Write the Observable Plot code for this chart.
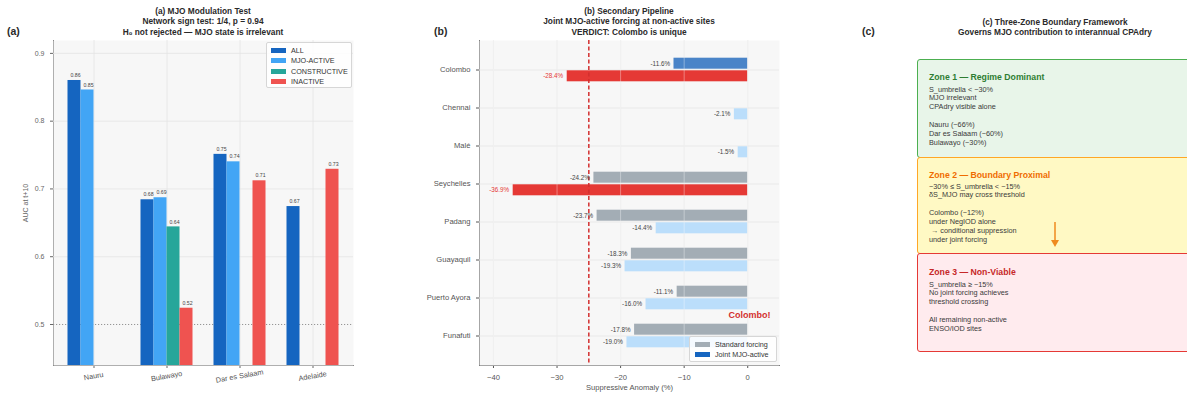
<!DOCTYPE html>
<html><head><meta charset="utf-8">
<script src="https://cdn.jsdelivr.net/npm/d3@7"></script>
<script src="https://cdn.jsdelivr.net/npm/@observablehq/plot@0.6"></script>
<style>
body{margin:0;width:1187px;height:397px;overflow:hidden;background:#fff;font-family:"Liberation Sans",Arial,sans-serif;position:relative;color:#222}
.abs{position:absolute}
.title{position:absolute;text-align:center;font-weight:bold;font-size:8.3px;line-height:10.3px;color:#2a2a2a;white-space:nowrap}
.tag{position:absolute;font-weight:bold;font-size:10.5px;color:#2a2a2a}
.legend{position:absolute;background:rgba(255,255,255,0.85);border:1px solid #d6d6d6;border-radius:2px;font-size:7.2px;color:#333;box-sizing:border-box;white-space:nowrap}
.legend .it{display:flex;align-items:center;height:10.3px}
.legend .sw{width:15px;height:5px;margin-right:5px;flex:none}
.zone{position:absolute;left:917px;width:300px;border-radius:3px;box-sizing:border-box;border-width:1.5px;border-style:solid}
.ztitle{position:absolute;left:929px;font-weight:bold;font-size:8.7px;line-height:10px;white-space:nowrap}
.zbody{position:absolute;left:929px;font-size:7.3px;line-height:8.9px;color:#3a3a3a;white-space:pre}
</style></head><body>
<div id="root"></div>
<script>
// ---------- Panel (a) data ----------
const sitesA = ["Nauru", "Bulawayo", "Dar es Salaam", "Adelaide"];
const seriesA = ["ALL", "MJO-ACTIVE", "CONSTRUCTIVE", "INACTIVE"];
const colorsA = ["#1565c0", "#42a5f5", "#26a69a", "#ef5350"];
const aucAll = [0.860, 0.684, 0.751, 0.674];
const aucActive = [0.846, 0.687, 0.740, null];
const aucConstructive = [null, 0.644, null, null];
const aucInactive = [null, 0.524, 0.712, 0.729];
const yTicksA = [0.5, 0.6, 0.7, 0.8, 0.9];

// ---------- Panel (b) data ----------
const sitesB = ["Colombo", "Chennai", "Malé", "Seychelles", "Padang", "Guayaquil", "Puerto Ayora", "Funafuti"];
const standardForcing = [-11.6, null, null, -24.2, -23.7, -18.3, -11.1, -17.8];
const jointForcing = [-28.4, -2.1, -1.5, -36.9, -14.4, -19.3, -16.0, -19.0];
const threshold = -25;
const highlightSite = "Colombo";
const xTicksB = [-40, -30, -20, -10, 0];

// ---------- Panel (c) text ----------
const zoneTitles = ["Zone 1 — Regime Dominant", "Zone 2 — Boundary Proximal", "Zone 3 — Non-Viable"];
const zoneBodies = [
  "S_umbrella < −30%\nMJO irrelevant\nCPAdry visible alone\n\nNauru (−66%)\nDar es Salaam (−60%)\nBulawayo (−30%)",
  "−30% ≤ S_umbrella < −15%\nδS_MJO may cross threshold\n\nColombo (−12%)\nunder NegIOD alone\n → conditional suppression\nunder joint forcing",
  "S_umbrella ≥ −15%\nNo joint forcing achieves\nthreshold crossing\n\nAll remaining non-active\nENSO/IOD sites"
];

const root = document.getElementById("root");
function add(html) { root.insertAdjacentHTML("beforeend", html); }
const FONT = "Liberation Sans, Arial, sans-serif";

// ===== Panel (a) =====
add(`<div class="tag" style="left:7px;top:25px">(a)</div>`);
add(`<div class="title" style="left:103px;width:200px;top:6px">(a) MJO Modulation Test<br>Network sign test: 1/4, p = 0.94<br>H₀ not rejected — MJO state is irrelevant</div>`);

const seriesValues = [aucAll, aucActive, aucConstructive, aucInactive];
const rowsA = [];
seriesA.forEach((s, i) => sitesA.forEach((site, j) => {
  const v = seriesValues[i][j];
  if (v != null) rowsA.push({site, series: s, value: v, idx: i});
}));
const barW = 13;
const yDomA = [0.4395, 0.919];

const marksA = [
  Plot.frame({fill: "#f7f7f7", stroke: null}),
  Plot.ruleY(yTicksA.filter(t => t !== 0.5), {stroke: "#e4e4e4", strokeWidth: 0.8}),
  Plot.ruleX(sitesA, {x: d => d, stroke: "#e4e4e4", strokeWidth: 0.8}),
  Plot.ruleY([0.5], {stroke: "#8a8a8a", strokeWidth: 0.9, strokeDasharray: "1.2,1.8"})
];
seriesA.forEach((s, i) => {
  const data = rowsA.filter(d => d.series === s);
  const off = (i - 1.5) * barW;
  marksA.push(Plot.barY(data, {x: "site", y: "value", fill: colorsA[i], dx: off, clip: true}));
  marksA.push(Plot.text(data, {x: "site", y: "value", text: d => d.value.toFixed(2), dx: off + 1, dy: -5, fontSize: 5.2, fill: "#444"}));
});
marksA.push(Plot.text(sitesA, {x: d => d, frameAnchor: "bottom", dy: 13, rotate: -10, fontSize: 7.3, fill: "#555"}));

const plotA = Plot.plot({
  width: 400, height: 359,
  marginLeft: 53, marginRight: 47, marginTop: 2, marginBottom: 32,
  style: {fontFamily: FONT, fontSize: "7px", color: "#666", background: "transparent", overflow: "visible"},
  x: {domain: sitesA, paddingInner: 1 - 0.177, paddingOuter: 0.455, label: null, tickFormat: () => "", tickSize: 3, line: true},
  y: {domain: yDomA, ticks: yTicksA, tickFormat: ".1f", tickSize: 3, line: true, label: "AUC at t+10", labelAnchor: "center", labelOffset: 30, labelArrow: "none"},
  marks: marksA
});
const divA = document.createElement("div");
divA.className = "abs"; divA.style.left = "0px"; divA.style.top = "38px";
divA.appendChild(plotA);
root.appendChild(divA);

add(`<div class="legend" style="left:266px;top:42px;width:86px;height:46px;padding:2.5px 0 0 4px">
${seriesA.map((s, i) => `<div class="it"><span class="sw" style="background:${colorsA[i]}"></span>${s}</div>`).join("")}
</div>`);

// ===== Panel (b) =====
add(`<div class="tag" style="left:434px;top:25px">(b)</div>`);
add(`<div class="title" style="left:529px;width:200px;top:6px">(b) Secondary Pipeline<br>Joint MJO-active forcing at non-active sites<br>VERDICT: Colombo is unique</div>`);

const stdRows = sitesB.map((site, j) => ({site, value: standardForcing[j]})).filter(d => d.value != null);
const jointRows = sitesB.map((site, j) => ({site, value: jointForcing[j]}));
const stdColor = d => d.site === highlightSite ? "#4a84c8" : "#a3adb5";
const jointColor = d => d.value <= threshold ? "#e53935" : "#bbdefb";
const jointText = d => d.value <= threshold ? "#e53935" : "#444";
const fmt = v => `${v.toFixed(1)}%`;
const OFF = 6.3;

const plotB = Plot.plot({
  width: 400, height: 359,
  marginLeft: 79, marginRight: 21, marginTop: 2, marginBottom: 32,
  style: {fontFamily: FONT, fontSize: "7.6px", color: "#555", background: "transparent", overflow: "visible"},
  x: {domain: [-42.2, 5.0], ticks: xTicksB, tickSize: 3, line: true, label: "Suppressive Anomaly (%)", labelAnchor: "center", labelOffset: 24, labelArrow: "none"},
  y: {domain: sitesB, paddingInner: 0.70, paddingOuter: 0.551, tickSize: 3, line: true, label: null},
  marks: [
    Plot.frame({fill: "#f7f7f7", stroke: null}),
    Plot.ruleY(sitesB, {y: d => d, stroke: "#e6e6e6", strokeWidth: 0.8}),
    Plot.ruleX(xTicksB, {stroke: "#e6e6e6", strokeWidth: 0.8}),
    Plot.barX(stdRows, {x: "value", y: "site", dy: -OFF, fill: stdColor}),
    Plot.barX(jointRows, {x: "value", y: "site", dy: OFF, fill: jointColor}),
    Plot.ruleX(xTicksB, {stroke: "#ffffff", strokeOpacity: 0.45, strokeWidth: 0.8}),
    Plot.ruleX([threshold], {stroke: "#d32f2f", strokeWidth: 1.5, strokeDasharray: "4,2.5"}),
    Plot.text(stdRows, {x: "value", y: "site", dy: -OFF, dx: -4, textAnchor: "end", text: d => fmt(d.value), fontSize: 6.3, fill: "#444"}),
    Plot.text(jointRows, {x: "value", y: "site", dy: OFF, dx: -4, textAnchor: "end", text: d => fmt(d.value), fontSize: 6.3, fill: jointText}),
    Plot.text([`${highlightSite}!`], {frameAnchor: "bottom-right", dx: -9, dy: -48, textAnchor: "end", fontSize: 9, fontWeight: "bold", fill: "#d32f2f"})
  ]
});
const divB = document.createElement("div");
divB.className = "abs"; divB.style.left = "400px"; divB.style.top = "38px";
divB.appendChild(plotB);
root.appendChild(divB);

add(`<div class="legend" style="left:689px;top:336px;width:88px;height:26px;padding:2.5px 0 0 5px">
<div class="it"><span class="sw" style="background:#a3adb5"></span>Standard forcing</div>
<div class="it"><span class="sw" style="background:#1565c0"></span>Joint MJO-active</div>
</div>`);

// ===== Panel (c) =====
add(`<div class="tag" style="left:862px;top:25px">(c)</div>`);
add(`<div class="title" style="left:935px;width:240px;top:17px">(c) Three-Zone Boundary Framework<br>Governs MJO contribution to interannual CPAdry</div>`);
const zoneFill = ["#e8f5e9", "#fff9c4", "#ffebee"];
const zoneStroke = ["#4caf50", "#ffa726", "#e53935"];
const zoneTitleColor = ["#2e7d32", "#ef6c00", "#c62828"];
const zoneTop = [59, 157, 253];
const zoneBottom = [158, 254, 352];
const titleY = [72, 170, 267];
const bodyY = [85.5, 182.5, 280.5];
zoneTitles.forEach((t, i) => {
  add(`<div class="zone" style="top:${zoneTop[i]}px;height:${zoneBottom[i] - zoneTop[i]}px;background:${zoneFill[i]};border-color:${zoneStroke[i]}"></div>`);
  add(`<div class="ztitle" style="top:${titleY[i]}px;color:${zoneTitleColor[i]}">${t}</div>`);
  add(`<div class="zbody" style="top:${bodyY[i]}px">${zoneBodies[i]}</div>`);
});
add(`<svg class="abs" style="left:1049px;top:220px" width="12" height="30"><line x1="6" y1="2" x2="6" y2="22" stroke="#ef8a1f" stroke-width="1.5"/><path d="M2,20 L6,27 L10,20 Z" fill="#ef8a1f"/></svg>`);
</script>
</body></html>
